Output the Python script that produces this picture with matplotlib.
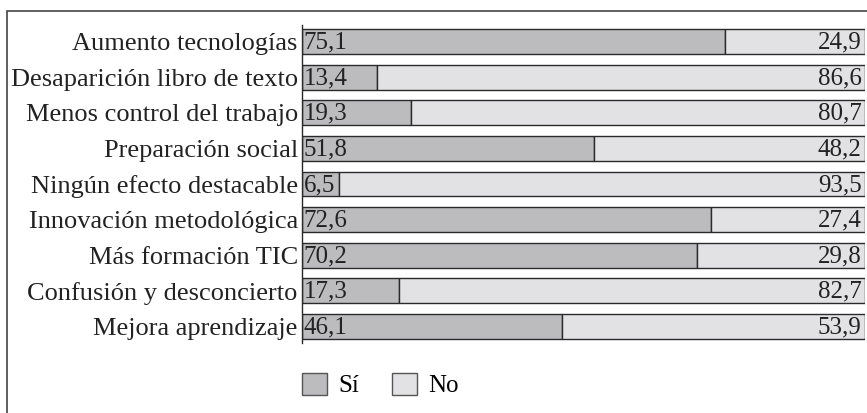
import matplotlib
matplotlib.use("Agg")
import matplotlib.pyplot as plt
from matplotlib.patches import Rectangle, Patch

categorias = ["Aumento tecnologías", "Desaparición libro de texto",
              "Menos control del trabajo", "Preparación social",
              "Ningún efecto destacable", "Innovación metodológica",
              "Más formación TIC", "Confusión y desconcierto",
              "Mejora aprendizaje"]
si = [75.1, 13.4, 19.3, 51.8, 6.5, 72.6, 70.2, 17.3, 46.1]
no = [24.9, 86.6, 80.7, 48.2, 93.5, 27.4, 29.8, 82.7, 53.9]

c_si = "#bcbcbe"
c_no = "#e2e2e4"
borde = "#2a2a2a"
fs = 18

plt.rcParams['font.family'] = ['Liberation Serif', 'DejaVu Serif']

fig = plt.figure(figsize=(8.67, 4.13), dpi=100)
ax = fig.add_axes([302/867, 1-343/413, 563/867, 318/413])

y = list(range(len(categorias)))
ax.barh(y, si, height=0.7, color=c_si, edgecolor=borde, linewidth=1.0)
ax.barh(y, no, left=si, height=0.7, color=c_no, edgecolor=borde, linewidth=1.0)

def fmt(v):
    return ("%.1f" % v).replace(".", ",")

for i in y:
    ax.text(0.3, i + 0.03, fmt(si[i]), ha="left", va="center", fontsize=fs, color="#222222")
    ax.text(99.4, i + 0.03, fmt(no[i]), ha="right", va="center", fontsize=fs, color="#222222")

ax.set_xlim(0, 100)
ax.set_ylim(len(categorias) - 0.53, -0.47)
ax.set_yticks(y)
ax.set_yticklabels(categorias, fontsize=19, color="#222222")
ax.tick_params(axis="y", length=0, pad=3)
ax.set_xticks([])
for s in ["top", "right", "bottom"]:
    ax.spines[s].set_visible(False)
ax.spines["left"].set_color(borde)
ax.spines["left"].set_linewidth(1.0)

# marco exterior
fig.patches.append(Rectangle((7/867, -0.1), 1.0, 1 - 11/413 + 0.1,
                             transform=fig.transFigure, fill=False,
                             edgecolor="#444444", linewidth=1.2))

manejadores = [Patch(facecolor=c_si, edgecolor="#555555", label="Sí"),
               Patch(facecolor=c_no, edgecolor="#555555", label="No")]
fig.legend(handles=manejadores, loc="center left",
           bbox_to_anchor=(302/867, 1-385/413), ncol=2, frameon=False,
           fontsize=fs, handlelength=1.0, handleheight=1.0,
           handletextpad=0.45, columnspacing=1.3, borderpad=0,
           borderaxespad=0)

fig.savefig("out.png", dpi=100)
